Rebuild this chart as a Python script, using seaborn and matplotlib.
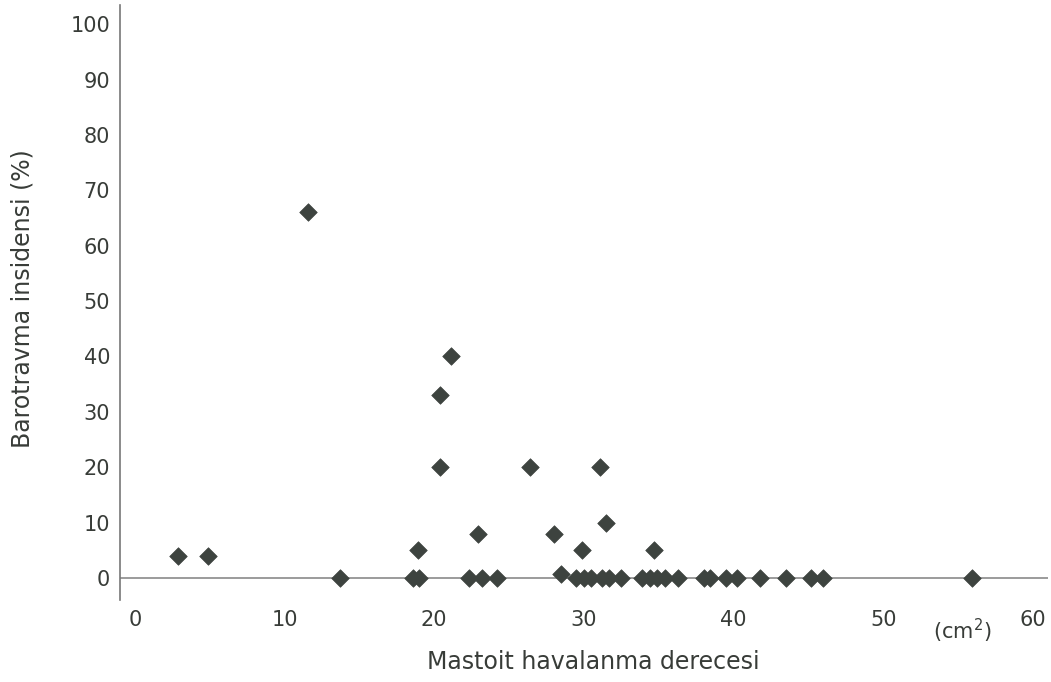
import numpy as np
import pandas as pd
import seaborn as sns
from matplotlib import pyplot as plt

# mastoid pneumatisation area (cm2) vs barotrauma incidence (%)
area = [2.9, 4.9, 11.6, 18.9, 20.4, 20.4, 21.1, 22.9, 26.4, 28.0, 29.9, 31.1, 31.5, 34.7, 28.5,
        13.7, 18.6, 19.0, 22.3, 23.2, 24.2, 29.5, 30.0, 30.5, 31.2, 31.7, 32.5,
        33.9, 34.4, 34.9, 35.4, 36.3, 38.0, 38.4, 39.5, 40.2, 41.8, 43.5, 45.2, 46.0, 55.9]
incidence = [4, 4, 66, 5, 20, 33, 40, 8, 20, 8, 5, 20, 10, 5, 0.8,
             0, 0, 0, 0, 0, 0, 0, 0, 0, 0, 0, 0,
             0, 0, 0, 0, 0, 0, 0, 0, 0, 0, 0, 0, 0, 0]
xticks = [0, 10, 20, 30, 40, 50, 60]
yticks = [0, 10, 20, 30, 40, 50, 60, 70, 80, 90, 100]

df = pd.DataFrame({"area": area, "incidence": incidence})

sns.set_style("white")
plt.rcParams['font.family'] = ['DejaVu Sans']
txt = "#383c38"

fig = plt.figure(figsize=(10.51, 6.82), dpi=100)
ax = fig.add_axes([0.114, 0.12, 0.883, 0.873])

ax.axhline(0, color="#8a8a8a", lw=1.2, zorder=1)
sns.scatterplot(data=df, x="area", y="incidence", marker="D", s=80,
                color="#3d433f", edgecolor="#3d433f", linewidth=0.5, ax=ax, zorder=3)

ax.set_xlim(-1, 61)
ax.set_ylim(-4, 103.5)
ax.set_xticks(xticks)
ax.set_yticks(yticks)
ax.tick_params(length=0, labelsize=15, colors=txt, pad=7)
for lab in ax.get_xticklabels() + ax.get_yticklabels():
    lab.set_color(txt)

for s in ["top", "right", "bottom"]:
    ax.spines[s].set_visible(False)
ax.spines["left"].set_color("#777777")
ax.spines["left"].set_linewidth(1.2)

ax.set_xlabel("Mastoit havalanma derecesi", fontsize=17, color=txt, va="center")
ax.set_ylabel("Barotravma insidensi (%)", fontsize=17, color=txt, va="center")
ax.xaxis.set_label_coords(0.51, -0.104)
ax.yaxis.set_label_coords(-0.105, 0.506)
ax.text(55.3, -9.5, "(cm$^2$)", fontsize=15, color=txt, ha="center", va="center",
        clip_on=False)

fig.savefig("out.png", dpi=100)
